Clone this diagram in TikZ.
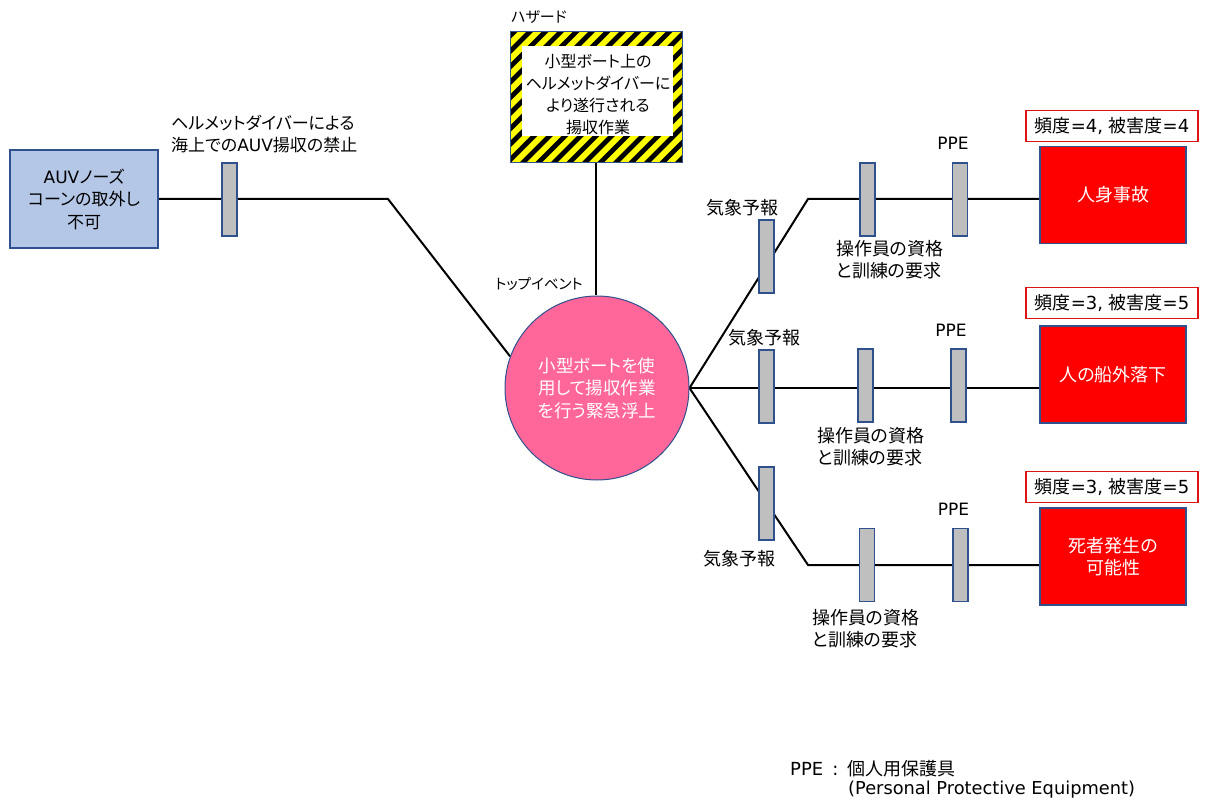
\documentclass[tikz,border=0pt]{standalone}
\usepackage{fontspec}
\setmainfont{Noto Sans CJK JP}[RawFeature={+palt}]
\newfontfamily\latfont{DejaVu Sans}
\newcommand{\la}[1]{{\latfont #1}}
\usetikzlibrary{calc}
\definecolor{bordb}{RGB}{47,82,143}
\definecolor{bluef}{RGB}{180,199,231}
\definecolor{grayf}{RGB}{191,191,191}
\definecolor{pinkf}{RGB}{255,102,153}
\definecolor{redf}{RGB}{255,0,0}
\definecolor{hazy}{RGB}{255,255,0}
\definecolor{ratebd}{RGB}{220,20,20}
\pgfdeclarelayer{bg}
\pgfsetlayers{bg,main}
\begin{document}
\begin{tikzpicture}[x=1pt,y=-1pt,
  txt/.style={font=\fontsize{16}{22}\selectfont, align=center, inner sep=0pt},
  big/.style={font=\fontsize{18}{22.5}\selectfont},
  mid/.style={font=\fontsize{17}{22.5}\selectfont},
  smalltxt/.style={font=\fontsize{14.5}{18}\selectfont, inner sep=0pt},
  lbl/.style={txt, anchor=west, align=left},
  barrier/.style={draw=bordb, line width=1.3pt, fill=grayf, minimum width=15pt, minimum height=73pt, inner sep=0pt},
  conn/.style={line width=2pt, black},
  redbox/.style={txt, big, draw=bordb, line width=1.2pt, fill=redf, text=white, minimum width=146pt, minimum height=97pt},
  ratebox/.style={txt, big, draw=ratebd, line width=1.2pt, fill=white, minimum width=172pt, minimum height=31pt}]
\useasboundingbox (0,0) rectangle (1205,802);
% hazard stripes
\begin{scope}
  \clip (510,32) rectangle (682,163);
  \fill[hazy] (510,32) rectangle (682,163);
  \foreach \i in {-170,-154.5,...,200} \draw[line width=4.8pt] ({510+\i},175) -- ++(150,-150);
\end{scope}
\fill[white] (522,46) rectangle (673,136);
\node[draw=bordb, line width=1pt, minimum width=172pt, minimum height=131pt, inner sep=0pt] (haz) at (596,97.5) {};
\node[txt] (haztxt) at (598,94) {小型ボート上の\\ヘルメットダイバーに\\より遂行される\\揚収作業};
\node[smalltxt, font=\fontsize{15}{18}\selectfont, anchor=west] (hazl) at (511,17) {ハザード};
% left
\node[txt, mid, draw=bordb, line width=1.3pt, fill=bluef, minimum width=148pt, minimum height=98pt] (auv) at (84,199) {\la{AUV}ノーズ\\コーンの取外し\\不可};
\node[barrier] (b0) at (229.5,199.5) {};
\node[lbl, mid] (l0) at (171,134) {ヘルメットダイバーによる\\海上での\la{AUV}揚収の禁止};
\coordinate (k1) at (388,199);
% top event
\node[txt, font=\fontsize{17.5}{22.5}\selectfont, circle, draw=bordb, line width=1pt, fill=pinkf, text=white, minimum size=184pt] (top) at (597,388) {小型ボートを使\\用して揚収作業\\を行う緊急浮上};
\node[smalltxt] (topl) at (539,284) {トップイベント};
% consequences
\node[redbox] (r1) at (1113,195) {人身事故};
\node[redbox] (r2) at (1113,374.5) {人の船外落下};
\node[redbox] (r3) at (1113,556.5) {死者発生の\\可能性};
\node[ratebox] (q1) at (1112,126) {頻度\la{=4, }被害度\la{=4}};
\node[ratebox] (q2) at (1112,303) {頻度\la{=3, }被害度\la{=5}};
\node[ratebox] (q3) at (1112,487) {頻度\la{=3, }被害度\la{=5}};
\coordinate (k2) at (808,199);
\coordinate (k3) at (808,565);
% barriers upper
\node[barrier] (w1) at (766.5,256.5) {};
\node[barrier] (o1) at (867.5,199.5) {};
\node[barrier] (p1) at (960,199.5) {};
\node[txt, big] (w1l) at (742.5,208) {気象予報};
\node[txt, mid] (p1l) at (953,143) {\la{PPE}};
\node[lbl, big] (o1l) at (836,259.5) {操作員の資格\\と訓練の要求};
% barriers middle
\node[barrier] (w2) at (766.5,386.5) {};
\node[barrier] (o2) at (865.5,385.5) {};
\node[barrier] (p2) at (958.5,385.5) {};
\node[txt, big] (w2l) at (764.5,338) {気象予報};
\node[txt, mid] (p2l) at (951,330) {\la{PPE}};
\node[lbl, big] (o2l) at (817,446.5) {操作員の資格\\と訓練の要求};
% barriers lower
\node[barrier] (w3) at (766.5,503.5) {};
\node[barrier] (o3) at (867,565) {};
\node[barrier] (p3) at (960.5,565) {};
\node[txt, big] (w3l) at (739.5,559) {気象予報};
\node[txt, mid] (p3l) at (953.5,509) {\la{PPE}};
\node[lbl, big] (o3l) at (812,628.5) {操作員の資格\\と訓練の要求};
% footnote
\node[txt, big, anchor=west] (fn1) at (790,769) {\la{PPE}\hspace{9pt}\la{:}\hspace{9pt}個人用保護具};
\node[txt, font=\fontsize{17.8}{22}\selectfont, anchor=west] (fn2) at (848,790) {\la{(Personal Protective Equipment)}};
% connectors
\begin{pgfonlayer}{bg}
\draw[conn] (auv.east) -- (k1) -- (top.160);
\draw[conn] (haz.south) -- (haz.south |- top.north);
\draw[conn] (top.east) -- (k2) -- (k2 -| r1.west);
\draw[conn] (top.east) -- (top.east -| r2.west);
\draw[conn] (top.east) -- (k3) -- (k3 -| r3.west);
\end{pgfonlayer}
\end{tikzpicture}
\end{document}
